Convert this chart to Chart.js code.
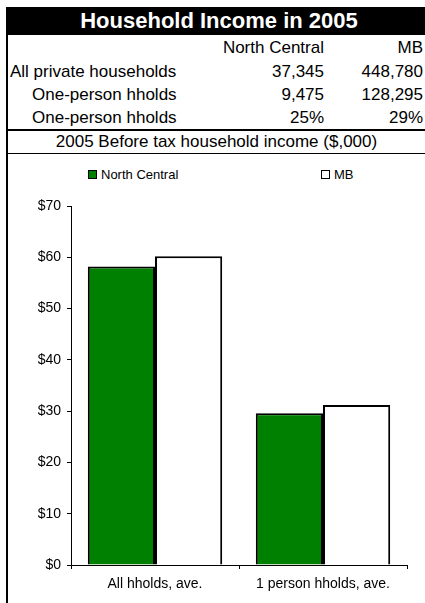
<!DOCTYPE html>
<html>
<head>
<meta charset="utf-8">
<title>Household Income in 2005</title>
<script src="https://cdn.jsdelivr.net/npm/chart.js@4.4.1/dist/chart.umd.min.js"></script>
<style>
  body { margin: 0; background: #fff; font-family: 'Liberation Sans', Arial, sans-serif; color: #000; }
  #page { position: relative; width: 425px; height: 603px; overflow: hidden; }
  .abs { position: absolute; white-space: nowrap; }
  #title { left: 6px; top: 7px; width: 412px; height: 28px; padding-left: 7px; background: #000; color: #fff;
           font-weight: bold; font-size: 22px; line-height: 28px; text-align: center; }
  #leftBorder { left: 6px; top: 7px; width: 2px; height: 596px; background: #000; }
  .rule { left: 6px; width: 419px; background: #000; }
  .cell { font-size: 17px; line-height: 23px; }
  .num { text-align: right; }
  #subtitle { left: 8px; width: 417px; top: 131px; font-size: 17px; line-height: 22px; text-align: center; }
  .legBox { width: 7px; height: 7px; border: 1px solid #000; }
  .legText { font-size: 13px; line-height: 15px; }
  #chart { position: absolute; left: 0; top: 185px; }
</style>
</head>
<body>
<div id="page">
  <div class="abs" id="title">Household Income in 2005</div>
  <div class="abs" id="leftBorder"></div>
  <div id="table"></div>
  <div class="abs rule" style="top:129px;height:2px"></div>
  <div class="abs" id="subtitle">2005 Before tax household income ($,000)</div>
  <div class="abs rule" style="top:153px;height:1px"></div>
  <div id="legend"></div>
  <canvas id="chart" width="425" height="418"></canvas>
</div>
<script>
// Table values
const columnNames = ['North Central', 'MB'];
const rowLabels = ['All private households', 'One-person hholds', 'One-person hholds'];
const northCentralRow = ['37,345', '9,475', '25%'];
const mbRow = ['448,780', '128,295', '29%'];

// Chart values ($,000)
const categories = ['All hholds, ave.', '1 person hholds, ave.'];
const seriesNames = ['North Central', 'MB'];
const northCentral = [58.2, 29.6];
const mb = [60.2, 31.2];
const yMax = 70;
const yStep = 10;

// Build the small table on top
function buildTable() {
    const table = document.getElementById('table');
    const rowTops = [36, 60, 83, 106];
    const addCell = (text, top, left, right, extra) => {
        const d = document.createElement('div');
        d.className = 'abs cell' + (extra || '');
        d.textContent = text;
        d.style.top = top + 'px';
        if (right !== null) {
            d.style.right = right + 'px';
        } else {
            d.style.left = left + 'px';
        }
        table.appendChild(d);
    };
    addCell(columnNames[0], rowTops[0], null, 101, ' num');
    addCell(columnNames[1], rowTops[0], null, 2, ' num');
    rowLabels.forEach((label, i) => {
        addCell(label, rowTops[i + 1], i === 0 ? 10 : 32, null);
        addCell(northCentralRow[i], rowTops[i + 1], null, 101, ' num');
        addCell(mbRow[i], rowTops[i + 1], null, 2, ' num');
    });
}
buildTable();

const colors = ['#008000', '#ffffff'];

// HTML legend, spaced out like the original
function buildLegend() {
    const legend = document.getElementById('legend');
    const lefts = [88, 321];
    seriesNames.forEach((name, i) => {
        const box = document.createElement('div');
        box.className = 'abs legBox';
        box.style.left = lefts[i] + 'px';
        box.style.top = '170px';
        box.style.background = colors[i];
        legend.appendChild(box);
        const t = document.createElement('div');
        t.className = 'abs legText';
        t.style.left = (lefts[i] + 13) + 'px';
        t.style.top = '167px';
        t.textContent = name;
        legend.appendChild(t);
    });
}
buildLegend();

Chart.defaults.font.family = "'Liberation Sans', Arial, sans-serif";
Chart.defaults.color = '#000';

const ctx = document.getElementById('chart').getContext('2d');
new Chart(ctx, {
    type: 'bar',
    data: {
        labels: categories,
        datasets: [{
            label: seriesNames[0],
            data: northCentral,
            backgroundColor: colors[0],
            borderColor: '#000',
            borderWidth: 2,
            borderSkipped: 'start',
        }, {
            label: seriesNames[1],
            data: mb,
            backgroundColor: colors[1],
            borderColor: '#000',
            borderWidth: 2,
            borderSkipped: 'start',
        }]
    },
    options: {
        responsive: false,
        animation: false,
        devicePixelRatio: 1,
        layout: { padding: { top: 21, right: 18, left: 0, bottom: 0 } },
        datasets: { bar: { categoryPercentage: 0.8, barPercentage: 1.0 } },
        plugins: {
            legend: { display: false },
            tooltip: { enabled: false },
        },
        scales: {
            x: {
                grid: { drawOnChartArea: false, drawTicks: true, tickLength: 4, color: '#000' },
                border: { color: '#000', width: 1 },
                ticks: { font: { size: 14 }, color: '#000', padding: 7 },
                afterFit: (scale) => { scale.height = 38; },
            },
            y: {
                min: 0,
                max: yMax,
                grid: { drawOnChartArea: false, drawTicks: true, tickLength: 4, color: '#000' },
                border: { color: '#000', width: 1 },
                ticks: {
                    stepSize: yStep,
                    font: { size: 14 },
                    color: '#000',
                    padding: 6,
                    callback: (v) => '$' + v,
                },
                afterFit: (scale) => { scale.width = 71; },
            }
        }
    }
});
</script>
</body>
</html>
